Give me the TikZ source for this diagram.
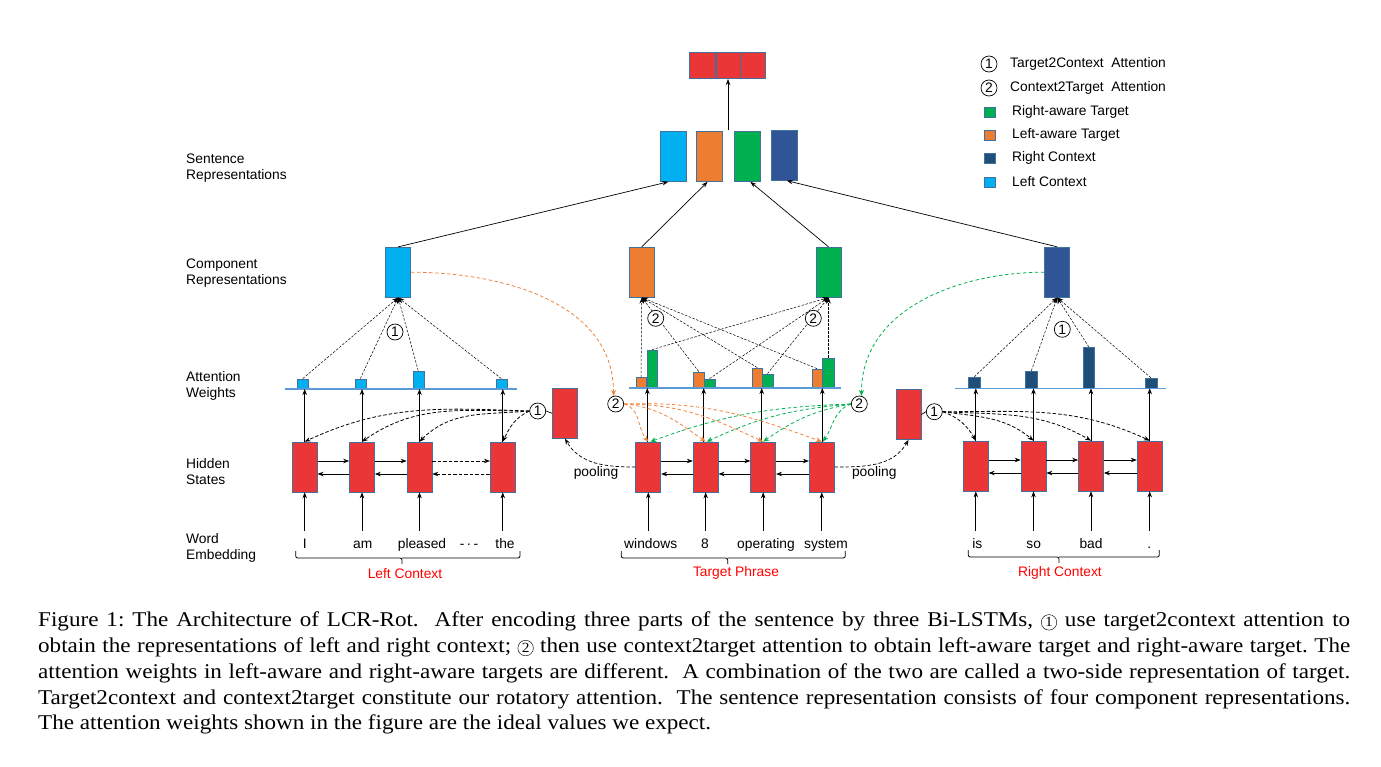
\documentclass[tikz,border=0pt]{standalone}
\usepackage{fontspec}
\setmainfont{Liberation Serif}
\newfontfamily\arialf{Liberation Sans}
\newfontfamily\capfont[FakeStretch=1.1]{Liberation Serif}
\usetikzlibrary{arrows.meta}
\definecolor{myred}{RGB}{234,54,54}
\definecolor{lblue}{RGB}{0,176,240}
\definecolor{orng}{RGB}{237,125,49}
\definecolor{grn}{RGB}{0,176,80}
\definecolor{dblue}{RGB}{47,85,151}
\definecolor{dbar}{RGB}{31,78,121}
\definecolor{bord}{RGB}{65,113,156}
\definecolor{attl}{RGB}{91,155,213}
\definecolor{ctxred}{RGB}{255,0,0}
\definecolor{odash}{RGB}{240,130,60}
\newcommand{\cnum}[1]{\tikz[baseline=(cX.base)]\node[draw,circle,inner sep=0pt,minimum size=15.5pt,line width=0.45pt,font=\capfont\fontsize{14}{14}\selectfont](cX){#1};}
\begin{document}
\begin{tikzpicture}[x=1pt,y=-1pt,
  font=\arialf\fontsize{13.8}{16}\selectfont,
  box/.style={draw=bord,line width=0.7pt,inner sep=0pt,minimum width=25pt,minimum height=50pt},
  hid/.style={box,fill=myred},
  bar/.style={draw=bord,line width=0.4pt,inner sep=0pt,anchor=south,minimum width=11pt},
  arr/.style={-{Stealth[length=6pt,width=4.5pt]},line width=0.7pt},
  darr/.style={arr,dash pattern=on 3.5pt off 2pt},
  att/.style={-{Stealth[length=6pt,width=4.5pt]},line width=0.5pt,dash pattern=on 2.5pt off 1.5pt},
  tatt/.style={-{Stealth[length=6pt,width=4.5pt]},line width=0.8pt,dash pattern=on 3.5pt off 2pt},
  oatt/.style={odash,line width=0.8pt,dash pattern=on 3.5pt off 2.5pt,-{Stealth[length=6pt,width=5pt]}},
  gatt/.style={grn,line width=0.8pt,dash pattern=on 3.5pt off 2.5pt,-{Stealth[length=6pt,width=5pt]}},
  circ/.style={circle,draw,line width=0.7pt,minimum size=16pt,inner sep=0pt,fill=white},
  lbl/.style={anchor=north west,align=left,inner sep=0pt},
  word/.style={anchor=base,inner xsep=0pt,inner ysep=7pt,text height=10pt,text depth=3pt},
  ctx/.style={text=ctxred},
  leg/.style={anchor=west,inner sep=0pt},
  legsq/.style={draw=bord,line width=0.4pt,inner sep=0pt,minimum width=11pt,minimum height=10pt}]
\useasboundingbox (0,0) rectangle (1381,766);

% ---------- row labels
\node[lbl] (lab1) at (186,154) {Sentence\\Representations};
\node[lbl] (lab2) at (186,259) {Component\\Representations};
\node[lbl] (lab3) at (186,371) {Attention\\Weights};
\node[lbl] (lab4) at (186,458) {Hidden\\States};
\node[lbl] (lab5) at (186,533) {Word\\Embedding};

% ---------- top output
\node[box,fill=myred,line width=1pt,minimum width=26pt,minimum height=26pt] (tp1) at (702.5,65.5) {};
\node[box,fill=myred,line width=1pt,minimum width=25pt,minimum height=26pt] (tp2) at (728,65.5) {};
\node[box,fill=myred,line width=1pt,minimum width=25pt,minimum height=26pt] (tp3) at (753,65.5) {};
\draw[bord,line width=1pt] (tp1.north east) -- (tp1.south east);
\draw[bord,line width=1pt] (tp3.north west) -- (tp3.south west);

% ---------- sentence representations
\node[box,fill=lblue,minimum width=26pt] (s1) at (673.2,156.5) {};
\node[box,fill=orng,minimum width=26pt] (s2) at (709.5,156.5) {};
\node[box,fill=grn,minimum width=26pt] (s3) at (747.4,156.5) {};
\node[box,fill=dblue,minimum width=26pt] (s4) at (784.8,155.3) {};
\coordinate (smid) at (728,130);
\draw[arr] (smid) -- (tp2.south);

% ---------- component representations
\node[box,fill=lblue] (lc) at (398.2,272.2) {};
\node[box,fill=orng] (oc) at (641.8,272.2) {};
\node[box,fill=grn] (gc) at (828.5,272.2) {};
\node[box,fill=dblue] (rc) at (1057.2,272.2) {};
\draw[arr] (lc.north) -- ([xshift=-5pt]s1.south);
\draw[arr] (oc.north) -- ([xshift=-2pt]s2.south);
\draw[arr] (gc.north) -- ([xshift=3pt]s3.south);
\draw[arr] (rc.north) -- ([xshift=2pt]s4.south);

% ---------- hidden states
\node[hid] (h1) at (304.7,467) {};
\node[hid] (h2) at (362,467) {};
\node[hid] (h3) at (419.5,467) {};
\node[hid] (h4) at (502.8,467) {};
\node[hid] (t1) at (648.3,467) {};
\node[hid] (t2) at (705.7,467) {};
\node[hid] (t3) at (763.2,467) {};
\node[hid] (t4) at (821.8,467) {};
\node[hid] (r1) at (975.8,466) {};
\node[hid] (r2) at (1033.5,466) {};
\node[hid] (r3) at (1091,466) {};
\node[hid] (r4) at (1149.7,466) {};
\node[hid] (pL) at (565,413.3) {};
\node[hid] (pR) at (908.5,414.5) {};

% bi-directional arrows
\foreach \a/\b in {h1/h2,h2/h3,t1/t2,t2/t3,t3/t4,r1/r2,r2/r3,r3/r4}{
  \draw[arr] ([yshift=6pt]\a.east) -- ([yshift=6pt]\b.west);
  \draw[arr] ([yshift=-7pt]\b.west) -- ([yshift=-7pt]\a.east);
}
\draw[darr] ([yshift=6pt]h3.east) -- ([yshift=6pt]h4.west);
\draw[darr] ([yshift=-7pt]h4.west) -- ([yshift=-7pt]h3.east);

% ---------- attention weights
\node[bar,fill=lblue,minimum height=10pt] (la1) at (302.7,389) {};
\node[bar,fill=lblue,minimum height=10pt] (la2) at (360.3,389) {};
\node[bar,fill=lblue,minimum height=18pt] (la3) at (418.2,389) {};
\node[bar,fill=lblue,minimum height=10pt] (la4) at (501.3,389) {};
\node[bar,fill=orng,minimum height=10.3pt,minimum width=10.5pt] (ob1) at (641,388) {};
\node[bar,fill=grn,minimum height=38pt,minimum width=10.5pt] (gb1) at (652,388) {};
\node[bar,fill=orng,minimum height=16pt,minimum width=10.5pt] (ob2) at (698.8,388) {};
\node[bar,fill=grn,minimum height=9pt,minimum width=10.5pt] (gb2) at (709.5,388) {};
\node[bar,fill=orng,minimum height=20pt,minimum width=10.5pt] (ob3) at (757.3,388) {};
\node[bar,fill=grn,minimum height=14pt,minimum width=10.5pt] (gb3) at (767.5,388) {};
\node[bar,fill=orng,minimum height=19pt,minimum width=10.5pt] (ob4) at (817,388) {};
\node[bar,fill=grn,minimum height=30pt,minimum width=12pt] (gb4) at (828.5,388) {};
\node[bar,fill=dbar,minimum height=11pt,minimum width=12pt] (rb1) at (974.2,388.3) {};
\node[bar,fill=dbar,minimum height=17pt,minimum width=12pt] (rb2) at (1031.3,388.3) {};
\node[bar,fill=dbar,minimum height=41pt,minimum width=11pt] (rb3) at (1088.8,388.3) {};
\node[bar,fill=dbar,minimum height=10pt,minimum width=11.5pt] (rb4) at (1151,388.3) {};
\coordinate (lA) at (285,389); \coordinate (lB) at (517,389);
\coordinate (mA) at (629,388); \coordinate (mB) at (841,388);
\coordinate (rA) at (955,388.3); \coordinate (rB) at (1166,388.3);
\draw[attl,line width=1.2pt] (lA) -- (lB);
\draw[attl,line width=1.2pt] (mA) -- (mB);
\draw[attl,line width=1.2pt] (rA) -- (rB);

% hidden -> attention line
\foreach \h in {h1,h2,h3,h4}{\draw[arr] (\h.north) -- (\h.north |- lA);}
\draw[arr] ([xshift=-1pt]t1.north) -- ([xshift=-1pt]t1.north |- mA);
\draw[arr] ([xshift=-2pt]t2.north) -- ([xshift=-2pt]t2.north |- mA);
\draw[arr] ([xshift=-1.5pt]t3.north) -- ([xshift=-1.5pt]t3.north |- mA);
\draw[arr] ([xshift=0.5pt]t4.north) -- ([xshift=0.5pt]t4.north |- mA);
\foreach \h in {r1,r2,r3,r4}{\draw[arr] (\h.north) -- (\h.north |- rA);}

% attention -> component
\foreach \b in {la1,la2,la3,la4}{\draw[att] (\b.north) -- (lc.south);}
\foreach \b in {ob1,ob2,ob3,ob4}{\draw[att] (\b.north) -- (oc.south);}
\foreach \b in {gb1,gb2,gb3,gb4}{\draw[att] (\b.north) -- (gc.south);}
\foreach \b in {rb1,rb2,rb3,rb4}{\draw[att] (\b.north) -- (rc.south);}

% circles on attention lines
\node[circ] (c1Lt) at (395,332) {1};
\node[circ] (c2Mt1) at (655.7,318.3) {2};
\node[circ] (c2Mt2) at (813.3,318.3) {2};
\node[circ] (c1Rt) at (1062.3,329.3) {1};

% ---------- target2context attention
\node[circ] (c1L) at (537.7,411) {1};
\node[circ] (c1R) at (934.3,411.7) {1};
\draw[line width=0.7pt] (pL.west) -- (c1L.east);
\draw[line width=0.7pt] (pR.east) -- (c1R.west);
\draw[tatt] (c1L.west) to[out=178,in=25] (h1.north);
\draw[tatt] (c1L.west) to[out=180,in=35] (h2.north);
\draw[tatt] (c1L.west) to[out=185,in=45] (h3.north);
\draw[tatt] (c1L.west) to[out=205,in=65] (h4.north);
\draw[tatt] (c1R.east) to[out=-20,in=120] (r1.north);
\draw[tatt] (c1R.east) to[out=-8,in=140] (r2.north);
\draw[tatt] (c1R.east) to[out=-3,in=150] (r3.north);
\draw[tatt] (c1R.east) to[out=0,in=155] (r4.north);

% ---------- context2target attention
\node[circ] (c2L) at (615.7,404) {2};
\node[circ] (c2R) at (859.3,404) {2};
\draw[oatt] (lc.east) to[out=0,in=90] (c2L.105);
\draw[gatt] (rc.west) to[out=180,in=90] (c2R.75);
\draw[oatt] (c2L.east) to[out=-15,in=130] (t1.north);
\draw[oatt] (c2L.east) to[out=-5,in=145] (t2.north);
\draw[oatt] (c2L.east) to[out=0,in=155] (t3.north);
\draw[oatt] (c2L.east) to[out=2,in=160] (t4.north);
\draw[gatt] (c2R.west) to[out=182,in=20] ([xshift=2pt]t1.north);
\draw[gatt] (c2R.west) to[out=185,in=25] ([xshift=1pt]t2.north);
\draw[gatt] (c2R.west) to[out=190,in=35] (t3.north);
\draw[gatt] (c2R.west) to[out=200,in=55] ([xshift=1pt]t4.north);

% ---------- pooling
\draw[darr] (t1.west) to[out=180,in=-60] (pL.south);
\draw[darr] (t4.east) to[out=0,in=-120] (pR.south);
\node (pool1) at (596,473.3) {pooling};
\node (pool2) at (874.3,473.3) {pooling};

% ---------- words
\node[word] (w1) at (304.7,548) {I};
\node[word] (w2) at (362.7,548) {am};
\node[word] (w3) at (422,548) {pleased};
\node[word] (wd) at (469,548) {-\,·\,-};
\node[word] (w4) at (505,548) {the};
\node[word] (x1) at (650.7,548) {windows};
\node[word] (x2) at (705,548) {8};
\node[word] (x3) at (766,548) {operating};
\node[word] (x4) at (826,548) {system};
\node[word] (y1) at (977.3,548) {is};
\node[word] (y2) at (1033.7,548) {so};
\node[word] (y3) at (1091,548) {bad};
\node[word] (y4) at (1149.3,548) {.};
\foreach \w/\h in {w1/h1,w2/h2,w3/h3,w4/h4,x1/t1,x2/t2,x3/t3,x4/t4,y1/r1,y2/r2,y3/r3,y4/r4}{
  \draw[arr] (\w.north -| \h.south) -- (\h.south);}

% ---------- braces
\draw[line width=0.8pt,rounded corners=2pt] (295.7,551) |- (402,558) -- (402,564);
\draw[line width=0.8pt,rounded corners=2pt] (402,558) -| (520,551);
\draw[line width=0.8pt,rounded corners=2pt] (621.3,551) |- (727.7,558) -- (727.7,564);
\draw[line width=0.8pt,rounded corners=2pt] (727.7,558) -| (845.3,551);
\draw[line width=0.8pt,rounded corners=2pt] (968.3,550) |- (1059,557) -- (1059,563);
\draw[line width=0.8pt,rounded corners=2pt] (1059,557) -| (1159.3,550);
\node[ctx] (lctx) at (405,573.3) {Left Context};
\node[ctx] (tctx) at (736,573.3) {Target Phrase};
\node[ctx] (rctx) at (1060,573.3) {Right Context};

% ---------- legend
\node[circ] (g1) at (989,64) {1};
\node[circ] (g2) at (989,88) {2};
\node[leg] (gt1) at (1010,64) {Target2Context\ \ Attention};
\node[leg] (gt2) at (1010,88) {Context2Target\ \ Attention};
\node[legsq,fill=grn] (q1) at (990,112) {};
\node[legsq,fill=orng] (q2) at (990,135) {};
\node[legsq,fill=dbar] (q3) at (990,158) {};
\node[legsq,fill=lblue] (q4) at (990,182) {};
\node[leg] (qt1) at (1012,112) {Right-aware Target};
\node[leg] (qt2) at (1012,135) {Left-aware Target};
\node[leg] (qt3) at (1012,158) {Right Context};
\node[leg] (qt4) at (1012,182) {Left Context};

% ---------- caption
\node[anchor=north west,inner sep=0pt,text width=1312pt,align=justify,
      font=\capfont\fontsize{21}{25.7}\selectfont\frenchspacing] (cap) at (38,612) {%
Figure 1: The Architecture of LCR-Rot.\ \ After encoding three parts of the sentence by three Bi-LSTMs, \cnum{1} use target2context attention to\linebreak
obtain the representations of left and right context; \cnum{2} then use context2target attention to obtain left-aware target and right-aware target. The\linebreak
attention weights in left-aware and right-aware targets are different.\ \ A combination of the two are called a two-side representation of target.\linebreak
Target2context and context2target constitute our rotatory attention.\ \ The sentence representation consists of four component representations.\linebreak
The attention weights shown in the figure are the ideal values we expect.};
\end{tikzpicture}
\end{document}
